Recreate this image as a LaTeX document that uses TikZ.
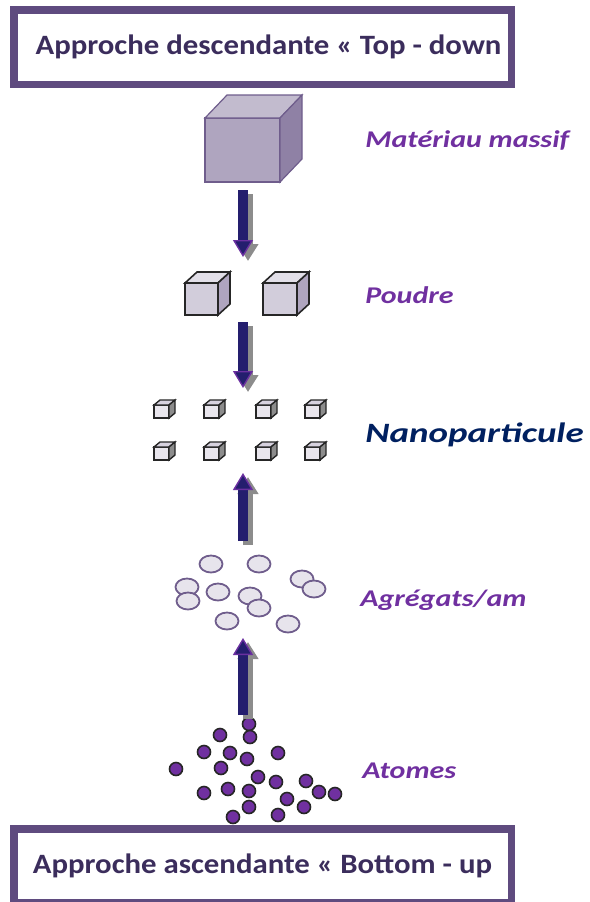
\documentclass[tikz,border=0pt]{standalone}
\usepackage{fontspec}
\setmainfont{Carlito}
\newfontfamily\cadrefont[FakeStretch=1.1]{Carlito}
\newfontfamily\etiquettefont[FakeStretch=1.25]{Carlito}
\newfontfamily\nanofont[FakeStretch=1.32]{Carlito}
\usetikzlibrary{arrows.meta,shapes.geometric}

\definecolor{cadreViolet}{HTML}{5F4B7F}
\definecolor{texteCadre}{HTML}{3B2D5C}
\definecolor{violetTexte}{HTML}{7030A0}
\definecolor{navyTexte}{HTML}{002060}
\definecolor{flecheNavy}{HTML}{241E6E}
\definecolor{flechePourpre}{HTML}{6A2FA0}
\definecolor{ombreGris}{HTML}{8C8C8C}

\begin{document}
\begin{tikzpicture}[x=0.5pt,y=-0.5pt,
	cadre/.style={draw=cadreViolet, line width=3.75pt, fill=white, inner sep=0pt, font=\cadrefont\fontsize{14}{16}\selectfont\bfseries, text=texteCadre},
	etiquette/.style={anchor=west, inner sep=0pt, font=\etiquettefont\fontsize{12}{14}\selectfont\bfseries\itshape, text=violetTexte},
	fleche/.style={line width=5pt, draw=flecheNavy, -{Triangle[width=10pt, length=8.5pt, fill=flecheNavy, color=flechePourpre, line width=0.7pt]}},
	ombre/.style={line width=5pt, draw=ombreGris, -{Triangle[width=10pt, length=8.5pt]}, transform canvas={shift={(2.5pt,-2pt)}}},
	agregat/.style={ellipse, draw=cadreViolet!90, line width=0.9pt, fill=cadreViolet!15, minimum width=11.5pt, minimum height=8.5pt, inner sep=0pt},
	atome/.style={circle, draw=black!85, line width=0.8pt, fill=violetTexte, minimum size=6.5pt, inner sep=0pt},
	% faces of the cubes
	massifface/.style={fill=cadreViolet!50, draw=cadreViolet!90, line width=0.6pt},
	massiftop/.style={fill=cadreViolet!38, draw=cadreViolet!90, line width=0.6pt},
	massifside/.style={fill=cadreViolet!70, draw=cadreViolet!90, line width=0.6pt},
	poudreface/.style={fill=cadreViolet!28, draw=black!85, line width=0.8pt},
	poudretop/.style={fill=cadreViolet!18, draw=black!85, line width=0.8pt},
	poudreside/.style={fill=cadreViolet!50, draw=black!85, line width=0.8pt},
	nanoface/.style={fill=cadreViolet!14, draw=black!85, line width=0.7pt},
	nanotop/.style={fill=cadreViolet!25, draw=black!85, line width=0.7pt},
	nanoside/.style={fill=black!45, draw=black!85, line width=0.7pt},
	pics/boite/.style n args={5}{code={
		\filldraw[#5face] (0,0) rectangle (#1,#2);
		\filldraw[#5top] (0,0) -- (#3,-#4) -- (#1+#3,-#4) -- (#1,0) -- cycle;
		\filldraw[#5side] (#1,0) -- (#1+#3,-#4) -- (#1+#3,#2-#4) -- (#1,#2) -- cycle;
	}}
	]
\useasboundingbox (0,0) rectangle (590,902);
\clip (0,0) rectangle (590,902);

% frames
\node[cadre, minimum width=248.75pt, minimum height=37.25pt] (descendante) at (262.5,47) {\hspace*{6pt}Approche descendante « Top - down};
\node[cadre, minimum width=248.75pt, minimum height=36.75pt] (ascendante) at (262.5,865.5) {Approche ascendante « Bottom - up};

% cubes
\pic at (205,118) {boite={75}{64}{22}{23}{massif}};
\pic at (185,283) {boite={33}{32}{12}{11}{poudre}};
\pic at (263,283) {boite={34}{32}{12}{11}{poudre}};
\foreach \cx in {154,204,256,305}
	\foreach \cy in {405,447}
		\pic at (\cx,\cy) {boite={15}{13}{6}{5}{nano}};

% aggregates
\foreach \gx/\gy [count=\i] in {211/564, 259/564, 187/587, 188/601, 218/592, 250/596, 259/608, 302/579, 314/589, 227/621, 288/624}
	\node[agregat] (g\i) at (\gx,\gy) {};

% atoms
\foreach \ax/\ay [count=\i] in {249/724, 220/735, 250/737, 204/752, 230/753, 247/759, 278/753, 176/769, 221/768, 258/777, 276/782, 306/781, 204/793, 228/789, 249/791, 319/792, 335/794, 287/799, 304/807, 249/807, 233/817, 278/815}
	\node[atome] (a\i) at (\ax,\ay) {};

% labels
\node[etiquette] (massif) at (365,140) {Matériau massif};
\node[etiquette] (poudre) at (365,295) {Poudre};
\node[etiquette, font=\nanofont\fontsize{14}{17}\selectfont\bfseries\itshape, text=navyTexte] (nano) at (365,435) {Nanoparticule};
\node[etiquette] (agregats) at (360,600) {Agrégats/am};
\node[etiquette] (atomes) at (362,771) {Atomes};

% arrows
\coordinate (f1a) at (243,190);
\coordinate (f1b) at (243,257);
\coordinate (f2a) at (243,322);
\coordinate (f2b) at (243,388);
\coordinate (f3a) at (243,541);
\coordinate (f3b) at (243,473);
\coordinate (f4a) at (243,715);
\coordinate (f4b) at (243,638);
\foreach \f in {1,...,4}{
	\draw[ombre] (f\f a) -- (f\f b);
	\draw[fleche] (f\f a) -- (f\f b);
}

\end{tikzpicture}
\end{document}
